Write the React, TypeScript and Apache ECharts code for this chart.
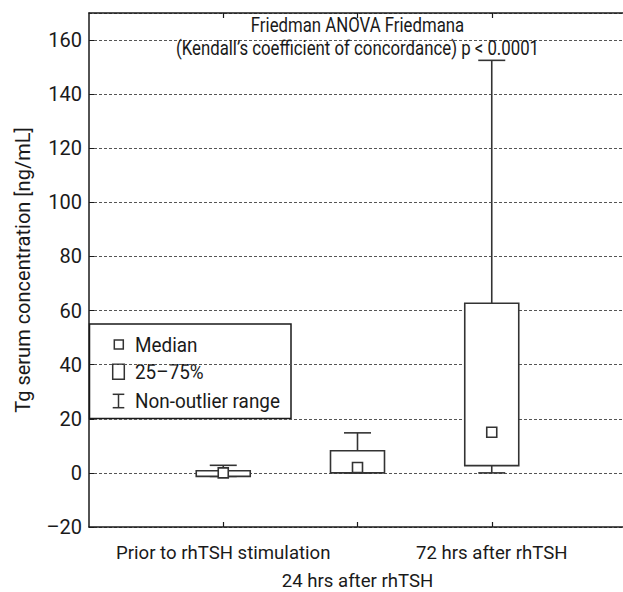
import React, { useEffect, useRef } from "react";
import * as echarts from "echarts";

const categories = ["Prior to rhTSH stimulation", "24 hrs after rhTSH", "72 hrs after rhTSH"];
const xPositions = [1, 2, 3];
const mins = [-1.3, 0, 0];
const q1s = [-1.3, 0, 2.7];
const medians = [0, 2, 15];
const q3s = [0.8, 8.2, 62.7];
const maxs = [2.8, 14.8, 152.5];
const yTicks = { min: -20, max: 170, interval: 20 };
const titleLines = ["Friedman ANOVA Friedmana", "(Kendall\u2019s coefficient of concordance) p < 0.0001"];
const legendItems = ["Median", "25\u201375%", "Non-outlier range"];
const yName = "Tg serum concentration [ng/mL]";

const FONT = "Roboto, 'Liberation Sans', sans-serif";
const INK = "#1a1a1a";
const LINE = "#333333";

export default function App() {
  const ref = useRef<HTMLDivElement>(null);
  useEffect(() => {
    if (!ref.current) return;
    const chart = echarts.init(ref.current, undefined, { renderer: "svg" });
    const data = xPositions.map((x, i) => [x, mins[i], q1s[i], medians[i], q3s[i], maxs[i]]);
    const labelFor = (v: number) => {
      const i = xPositions.indexOf(Math.round(v));
      return i < 0 ? "" : categories[i];
    };
    const xLabelStyle = { color: INK, fontSize: 18.6, fontFamily: FONT };
    const option: any = {
      animation: false,
      backgroundColor: "#ffffff",
      grid: { left: 89, top: 13, width: 537, height: 514, containLabel: false },
      xAxis: [
        {
          type: "value",
          min: 0,
          max: 4,
          position: "bottom",
          axisLine: { show: true, onZero: false, lineStyle: { color: INK, width: 1.5 } },
          axisTick: { show: true, inside: true, length: 5, customValues: xPositions, lineStyle: { color: INK, width: 1.2 } },
          axisLabel: {
            show: true,
            customValues: [xPositions[0], xPositions[2]],
            showMinLabel: true,
            showMaxLabel: true,
            margin: 16,
            ...xLabelStyle,
            formatter: labelFor,
          },
          splitLine: { show: false },
        },
        {
          type: "value",
          min: 0,
          max: 4,
          position: "top",
          axisLine: { show: true, onZero: false, lineStyle: { color: INK, width: 1.5 } },
          axisTick: { show: true, inside: true, length: 5, customValues: xPositions, lineStyle: { color: INK, width: 1.2 } },
          axisLabel: { show: false },
          splitLine: { show: false },
        },
        {
          type: "value",
          min: 0,
          max: 4,
          position: "bottom",
          offset: 28,
          axisLine: { show: false },
          axisTick: { show: false },
          axisLabel: {
            show: true,
            customValues: [xPositions[1]],
            showMinLabel: true,
            showMaxLabel: true,
            margin: 16,
            ...xLabelStyle,
            formatter: labelFor,
          },
          splitLine: { show: false },
        },
      ],
      yAxis: {
        type: "value",
        min: yTicks.min,
        max: yTicks.max,
        interval: yTicks.interval,
        name: yName,
        nameLocation: "middle",
        nameGap: 56,
        nameTextStyle: { color: INK, fontSize: 20, fontFamily: FONT },
        axisLine: { show: true, onZero: false, lineStyle: { color: INK, width: 1.5 } },
        axisTick: { show: true, inside: true, length: 5, lineStyle: { color: INK, width: 1 } },
        axisLabel: {
          color: INK,
          fontSize: 20,
          fontFamily: FONT,
          margin: 7,
          showMaxLabel: false,
          showMinLabel: true,
          formatter: (v: number) => (v < 0 ? "\u2013" + Math.abs(v) : String(v)),
        },
        splitLine: { show: true, lineStyle: { color: "#555555", width: 1, type: [3, 2] } },
      },
      series: [
        {
          type: "custom",
          xAxisIndex: 0,
          yAxisIndex: 0,
          data,
          encode: { x: 0, y: [1, 2, 3, 4, 5] },
          renderItem: (params: any, api: any) => {
            const x = api.value(0);
            const pMin = api.coord([x, api.value(1)]);
            const pQ1 = api.coord([x, api.value(2)]);
            const pMed = api.coord([x, api.value(3)]);
            const pQ3 = api.coord([x, api.value(4)]);
            const pMax = api.coord([x, api.value(5)]);
            const cx = pMed[0];
            const boxW = 54;
            const capW = 27;
            const sq = 10;
            const st = { stroke: LINE, lineWidth: 1.6, fill: "none" };
            return {
              type: "group",
              children: [
                { type: "line", shape: { x1: cx, y1: pQ3[1], x2: cx, y2: pMax[1] }, style: st },
                { type: "line", shape: { x1: cx - capW / 2, y1: pMax[1], x2: cx + capW / 2, y2: pMax[1] }, style: st },
                { type: "line", shape: { x1: cx, y1: pQ1[1], x2: cx, y2: pMin[1] }, style: st },
                { type: "line", shape: { x1: cx - capW / 2, y1: pMin[1], x2: cx + capW / 2, y2: pMin[1] }, style: st },
                {
                  type: "rect",
                  shape: { x: cx - boxW / 2, y: pQ3[1], width: boxW, height: Math.max(pQ1[1] - pQ3[1], 0.5) },
                  style: { stroke: LINE, lineWidth: 1.6, fill: "#ffffff" },
                },
                {
                  type: "rect",
                  shape: { x: cx - sq / 2, y: pMed[1] - sq / 2, width: sq, height: sq },
                  style: { stroke: LINE, lineWidth: 1.6, fill: "#ffffff" },
                },
              ],
            };
          },
          z: 5,
        },
      ],
      graphic: [
        {
          type: "text",
          x: 357.5,
          y: 26,
          scaleX: 0.84,
          z: 10,
          style: { text: titleLines[0], fill: INK, fontSize: 20, fontFamily: FONT, align: "center", verticalAlign: "middle", textAlign: "center", textVerticalAlign: "middle" },
        },
        {
          type: "text",
          x: 357.5,
          y: 49,
          scaleX: 0.84,
          z: 10,
          style: { text: titleLines[1], fill: INK, fontSize: 20, fontFamily: FONT, align: "center", verticalAlign: "middle", textAlign: "center", textVerticalAlign: "middle" },
        },
        {
          type: "group",
          z: 20,
          children: [
            { type: "rect", shape: { x: 89.5, y: 324, width: 201.5, height: 94.5 }, style: { fill: "#ffffff", stroke: INK, lineWidth: 1.5 } },
            { type: "rect", shape: { x: 114.3, y: 340, width: 9, height: 9 }, style: { fill: "#ffffff", stroke: LINE, lineWidth: 1.5 } },
            { type: "rect", shape: { x: 112.7, y: 364.3, width: 11.6, height: 15 }, style: { fill: "#ffffff", stroke: LINE, lineWidth: 1.5 } },
            { type: "line", shape: { x1: 112.7, y1: 394.3, x2: 124.3, y2: 394.3 }, style: { stroke: LINE, lineWidth: 1.5 } },
            { type: "line", shape: { x1: 112.7, y1: 407.7, x2: 124.3, y2: 407.7 }, style: { stroke: LINE, lineWidth: 1.5 } },
            { type: "line", shape: { x1: 118.5, y1: 394.3, x2: 118.5, y2: 407.7 }, style: { stroke: LINE, lineWidth: 1.5 } },
            ...legendItems.map((t, i) => ({
              type: "text",
              x: 135,
              y: [344.5, 372, 401][i],
              scaleX: 0.9,
              style: { text: t, fill: INK, fontSize: 21, fontFamily: FONT, align: "left", verticalAlign: "middle", textAlign: "left", textVerticalAlign: "middle" },
            })),
          ],
        },
      ],
    };
    chart.setOption(option);
    return () => chart.dispose();
  }, []);
  return (
    <div style={{ position: "fixed", left: 0, top: 0, width: 623, height: 592, overflow: "hidden", background: "#fff" }}>
      <div ref={ref} style={{ width: 626, height: 592 }} />
    </div>
  );
}
